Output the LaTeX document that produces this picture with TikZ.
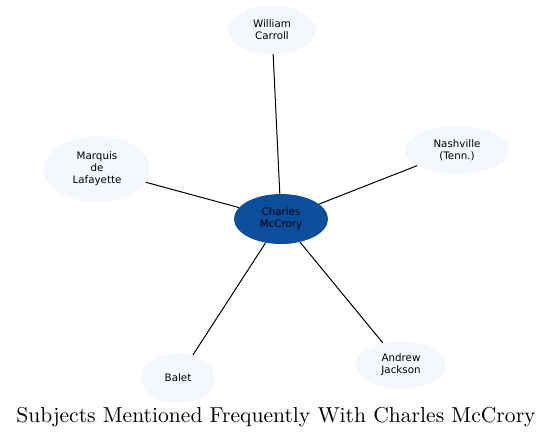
\documentclass[tikz,border=0pt]{standalone}
\usepackage{fontspec}
\newfontfamily\dejavu{DejaVu Sans}
\newfontfamily\titlefont{lmroman10-regular.otf}
\usetikzlibrary{shapes.geometric}
\definecolor{lightfill}{HTML}{F4F8FE}
\definecolor{centerfill}{HTML}{0B4F9C}
\tikzset{
  topic/.style={ellipse, fill=lightfill, draw=none, inner sep=0pt, align=center,
    font=\dejavu\fontsize{10.3}{12}\selectfont},
  hub/.style={topic, fill=centerfill},
  link/.style={draw=black, line width=1pt}
}
\begin{document}
\begin{tikzpicture}[x=1pt,y=-1pt]
\useasboundingbox[fill=white] (0,0) rectangle (553,439);
\node[hub, minimum width=94pt, minimum height=50pt] (cm) at (281,219) {Charles\\McCrory};
\node[topic, minimum width=88pt, minimum height=48pt] (wc) at (272,30) {William\\Carroll};
\node[topic, minimum width=106pt, minimum height=66pt] (ml) at (97,169) {Marquis\\de\\Lafayette};
\node[topic, minimum width=104pt, minimum height=48pt] (nt) at (457,150) {Nashville\\(Tenn.)};
\node[topic, minimum width=74pt, minimum height=50pt] (ba) at (178,378) {Balet};
\node[topic, minimum width=90pt, minimum height=48pt] (aj) at (401,365) {Andrew\\Jackson};
\draw[link] (cm) -- (wc);
\draw[link] (cm) -- (ml);
\draw[link] (cm) -- (nt);
\draw[link] (cm) -- (ba);
\draw[link] (cm) -- (aj);
\node[font=\titlefont\fontsize{21.6}{26}\selectfont, inner sep=0pt] (title) at (276,417) {Subjects Mentioned Frequently With Charles McCrory};
\end{tikzpicture}
\end{document}
